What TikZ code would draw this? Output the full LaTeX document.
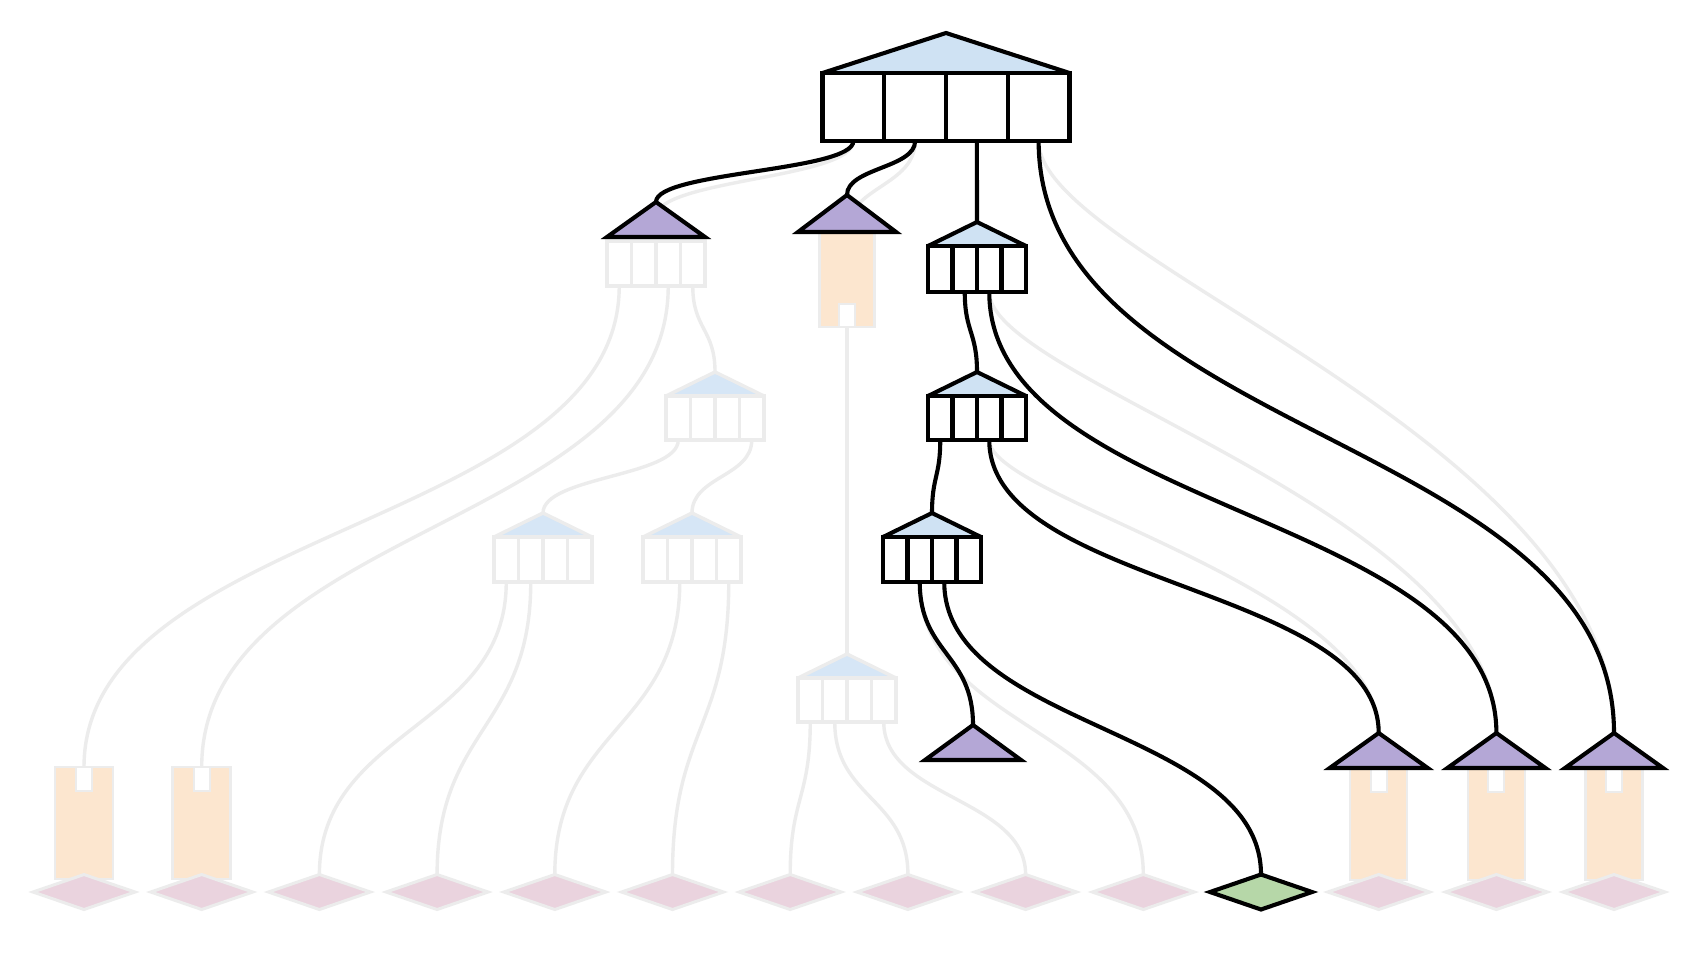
\documentclass[tikz,border=0pt]{standalone}
\usetikzlibrary{calc}
\definecolor{fadeline}{RGB}{236,236,236}
\definecolor{qblue}{RGB}{207,226,243}
\definecolor{fblue}{RGB}{214,230,246}
\definecolor{qpurple}{RGB}{180,167,214}
\definecolor{forange}{RGB}{252,230,207}
\definecolor{fpink}{RGB}{234,211,222}
\definecolor{qgreen}{RGB}{182,215,168}
\pgfdeclarelayer{bgl}\pgfdeclarelayer{fedge}\pgfdeclarelayer{fnode}\pgfdeclarelayer{dedge}
\pgfsetlayers{bgl,fedge,fnode,dedge,main}
% connector with vertical tangents; #4, #5 = lengths of the control arms as fractions of the drop
\newcommand\connf[5]{%
  \draw[#1] (#2) .. controls ($(#2)!#4!(#2 |- #3)$) and ($(#3)!#5!(#3 |- #2)$) .. (#3);}
\newcommand\conn[3]{\connf{#1}{#2}{#3}{0.5}{0.5}}
\tikzset{
  darkln/.style={draw=black, line width=4.1pt},
  fadeln/.style={draw=fadeline, line width=3.4pt},
  qline/.style={darkln},
  qtri/.style={fill=qblue},
  pinkdia/.style={fill=fpink, draw=fadeline, line width=3pt},
  greendia/.style={fill=qgreen, draw=black, line width=4.1pt},
  pics/quad/.style n args={3}{code={
    \fill[qtri] (0,0) -- (#1/2,#2) -- (-#1/2,#2) -- cycle;
    \fill[white] (-#1/2,#2) rectangle (#1/2,#2+#3);
    \draw[qline] (-#1/2,#2) -- (0,0) -- (#1/2,#2);
    \draw[qline] (-#1/2,#2) rectangle (#1/2,#2+#3);
    \draw[qline] (-#1/4,#2) -- (-#1/4,#2+#3) (0,#2) -- (0,#2+#3) (#1/4,#2) -- (#1/4,#2+#3);
    \coordinate (-apex) at (0,0);
    \coordinate (-c1) at (-3*#1/8,#2+#3);
    \coordinate (-c2) at (-#1/8,#2+#3);
    \coordinate (-c3) at (#1/8,#2+#3);
    \coordinate (-c4) at (3*#1/8,#2+#3);
  }},
  pics/ptri/.style n args={2}{code={
    \filldraw[darkln, fill=qpurple] (0,0) -- (#1/2,#2) -- (-#1/2,#2) -- cycle;
    \coordinate (-apex) at (0,0);
  }},
  pics/oleaf/.style n args={2}{code={
    \filldraw[fill=forange, draw=fadeline, line width=2.5pt] (-#1/2,0) rectangle (#1/2,#2);
    \filldraw[fill=white, draw=fadeline, line width=2pt] (-8,0) rectangle (8,24);
    \coordinate (-top) at (0,0);
  }},
  pics/oleafb/.style n args={2}{code={
    \filldraw[fill=forange, draw=fadeline, line width=2.5pt] (-#1/2,0) rectangle (#1/2,#2);
    \filldraw[fill=white, draw=fadeline, line width=2pt] (-8,#2-23) rectangle (8,#2);
    \coordinate (-top) at (0,0);
    \coordinate (-bot) at (0,#2);
  }},
  pics/dia/.style={code={
    \filldraw[#1] (0,-17.5) -- (51,0) -- (0,17.5) -- (-51,0) -- cycle;
    \coordinate (-top) at (0,-17.5);
  }},
}
\begin{document}
\begin{tikzpicture}[x=1pt,y=-1pt]
\begin{pgfonlayer}{bgl}
\fill[white] (0,0) rectangle (1696,954);
\end{pgfonlayer}
\useasboundingbox (0,0) rectangle (1696,954);

% ---------- faded (original) nodes ----------
\begin{pgfonlayer}{fnode}
\begin{scope}[qline/.style={fadeln}, qtri/.style={fill=fblue}]
  \pic (A) at (656,217) {quad={98}{24}{45}};
  \pic (D) at (715,372) {quad={98}{24}{44}};
  \pic (F) at (543,513) {quad={98}{24}{45}};
  \pic (G) at (692,513) {quad={98}{24}{45}};
  \pic (I) at (847,654) {quad={98}{24}{44}};
\end{scope}
  \pic (o1) at (84,767) {oleaf={58}{112}};
  \pic (o2) at (201.7,767) {oleaf={58}{112}};
  \pic (oK) at (1378.7,768) {oleaf={57}{112}};
  \pic (oL) at (1496.4,768) {oleaf={57}{112}};
  \pic (oM) at (1614,768) {oleaf={57}{112}};
  \pic (oB) at (847,232) {oleafb={55}{95}};
  \pic (d1) at (84,892) {dia=pinkdia};
  \pic (d2) at (201.7,892) {dia=pinkdia};
  \pic (d3) at (319.4,892) {dia=pinkdia};
  \pic (d4) at (437.1,892) {dia=pinkdia};
  \pic (d5) at (554.8,892) {dia=pinkdia};
  \pic (d6) at (672.5,892) {dia=pinkdia};
  \pic (d7) at (790.2,892) {dia=pinkdia};
  \pic (d8) at (907.9,892) {dia=pinkdia};
  \pic (d9) at (1025.6,892) {dia=pinkdia};
  \pic (d10) at (1143.3,892) {dia=pinkdia};
  \pic (d12) at (1378.7,892) {dia=pinkdia};
  \pic (d13) at (1496.4,892) {dia=pinkdia};
  \pic (d14) at (1614,892) {dia=pinkdia};
\end{pgfonlayer}

% ---------- dark (highlighted) nodes ----------
\pic (root) at (946,33) {quad={247}{40}{68}};
\pic (C) at (977,222) {quad={98}{24}{46}};
\pic (E) at (977,372) {quad={98}{24}{44}};
\pic (H) at (932,513) {quad={98}{24}{45}};
\pic (pA) at (656,202) {ptri={98}{35}};
\pic (pB) at (847,195) {ptri={98}{37}};
\pic (pJ) at (973,725) {ptri={96}{35}};
\pic (pK) at (1378.7,733) {ptri={98}{35}};
\pic (pL) at (1496.4,733) {ptri={98}{35}};
\pic (pM) at (1614,733) {ptri={98}{35}};
\pic (d11) at (1261,892) {dia=greendia};

% ---------- faded connectors ----------
\begin{pgfonlayer}{fedge}
  \conn{fadeln}{root-c1}{A-apex}
  \conn{fadeln}{root-c2}{oB-top}
  \connf{fadeln}{root-c4}{pM-apex}{0.2}{0.5}
  \connf{fadeln}{C-c3}{pL-apex}{0.2}{0.5}
  \connf{fadeln}{E-c3}{pK-apex}{0.2}{0.5}
  \conn{fadeln}{H-c2}{d10-top}
  \conn{fadeln}{A-c1}{o1-top}
  \conn{fadeln}{A-c3}{o2-top}
  \conn{fadeln}{A-c4}{D-apex}
  \conn{fadeln}{D-c1}{F-apex}
  \conn{fadeln}{D-c4}{G-apex}
  \conn{fadeln}{F-c1}{d3-top}
  \conn{fadeln}{F-c2}{d4-top}
  \conn{fadeln}{G-c2}{d5-top}
  \conn{fadeln}{G-c4}{d6-top}
  \conn{fadeln}{oB-bot}{I-apex}
  \conn{fadeln}{I-c1}{d7-top}
  \conn{fadeln}{I-c2}{d8-top}
  \conn{fadeln}{I-c4}{d9-top}
\end{pgfonlayer}

% ---------- dark connectors ----------
\begin{pgfonlayer}{dedge}
  \conn{darkln}{root-c1}{pA-apex}
  \conn{darkln}{root-c2}{pB-apex}
  \conn{darkln}{root-c3}{C-apex}
  \conn{darkln}{root-c4}{pM-apex}
  \conn{darkln}{C-c2}{E-apex}
  \conn{darkln}{C-c3}{pL-apex}
  \conn{darkln}{E-c1}{H-apex}
  \conn{darkln}{E-c3}{pK-apex}
  \conn{darkln}{H-c2}{pJ-apex}
  \conn{darkln}{H-c3}{d11-top}
\end{pgfonlayer}
\end{tikzpicture}
\end{document}
